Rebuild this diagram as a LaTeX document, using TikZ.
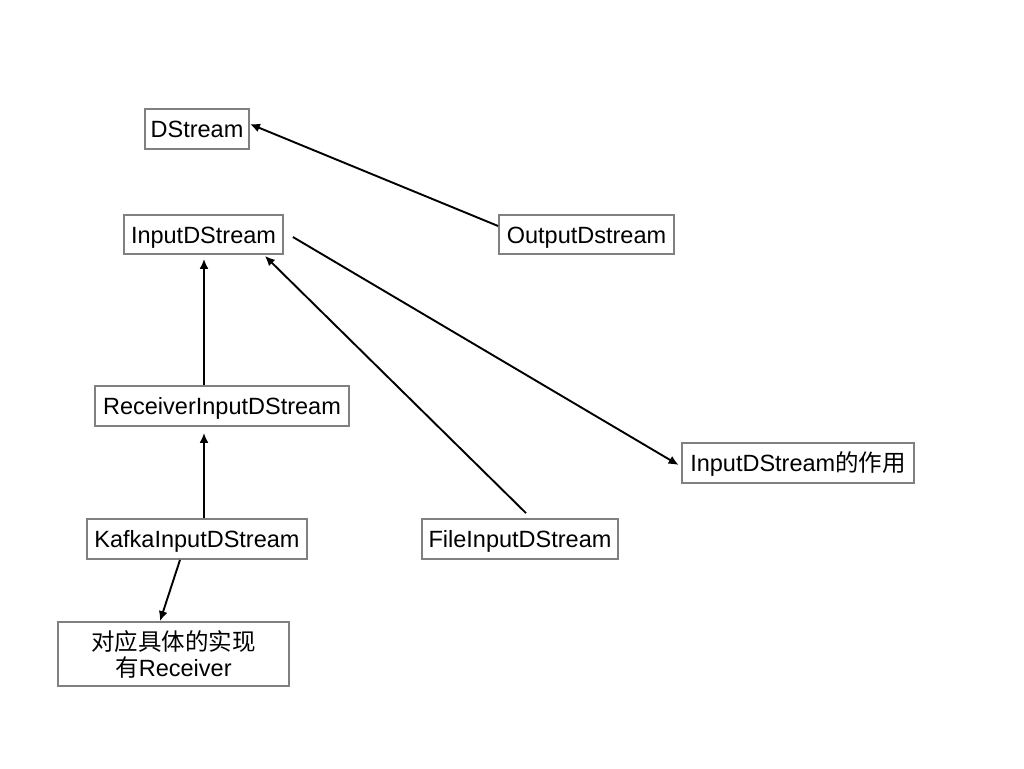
\documentclass[tikz,border=0pt]{standalone}
\usepackage{fontspec}
\setmainfont{Liberation Sans}
\newfontfamily\cjk{Noto Sans CJK SC}
\usetikzlibrary{arrows.meta,calc}
\definecolor{boxgray}{RGB}{128,128,128}
\tikzset{
  box/.style={draw=boxgray, line width=1.8pt, inner sep=0pt, align=center,
    font=\fontsize{23.5}{26}\selectfont},
  onebox/.style={box, text height=17pt, text depth=0pt},
  conn/.style={draw=black, line width=1.9pt, -{Latex[length=10pt,width=9pt]}}
}
\begin{document}
\begin{tikzpicture}[x=1pt,y=-1pt]
\useasboundingbox[fill=white] (0,0) rectangle (1024,768);
\node[onebox, minimum width=104pt, minimum height=40pt] (ds) at (197,129) {DStream};
\node[onebox, minimum width=159pt, minimum height=39pt] (in) at (203.5,234.5) {InputDStream};
\node[onebox, minimum width=175pt, minimum height=39pt] (out) at (586.5,234.5) {OutputDstream};
\node[onebox, minimum width=254pt, minimum height=40pt] (rec) at (222,406) {ReceiverInputDStream};
\node[onebox, minimum width=232pt, minimum height=40pt] (role) at (798,463) {InputDStream{\cjk 的作用}};
\node[onebox, minimum width=220pt, minimum height=40pt] (kafka) at (197,539) {KafkaInputDStream};
\node[onebox, minimum width=196pt, minimum height=40pt] (file) at (520,539) {FileInputDStream};
\node[box, minimum width=231pt, minimum height=64pt] (impl) at (173.5,654) {{\cjk 对应具体的实现}\\{\cjk 有}Receiver};
\draw[conn] ($(out.west)+(0,-8.5)$) -- ($(ds.east)+(0,-5)$);
\draw[conn] ($(rec.north)+(-18,0)$) -- ($(in.south)+(0.5,4)$);
\draw[conn] ($(kafka.north)+(7,0)$) -- ($(rec.south)+(-18,6)$);
\draw[conn] ($(kafka.south)+(-17,0)$) -- ($(impl.north)+(-13.5,0)$);
\draw[conn] ($(file.north)+(6,-5)$) -- ($(in.south east)+(-19,1)$);
\draw[conn] ($(in.east)+(9,2.5)$) -- ($(role.west)+(-2.5,2)$);
\end{tikzpicture}
\end{document}
